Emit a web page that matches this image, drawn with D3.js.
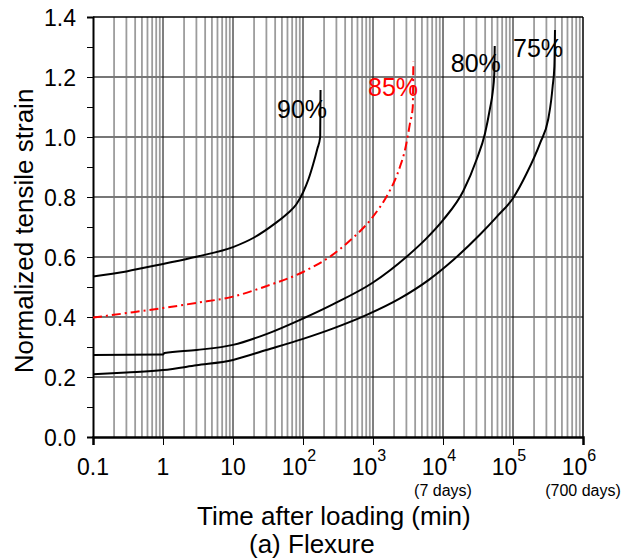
<!DOCTYPE html>
<html>
<head>
<meta charset="utf-8">
<script src="https://d3js.org/d3.v7.min.js"></script>
<style>
  body { margin: 0; background: #fff; }
  text { font-family: "Liberation Sans", Arial, sans-serif; fill: #000; }
</style>
</head>
<body>
<div class="chart"></div>
<script>
// values (time in min, normalized strain)
const time90 = [0.1, 0.3, 1, 3, 10, 20, 40, 60, 80, 100, 120, 140, 160, 176, 178];
const strain90 = [0.535, 0.552, 0.577, 0.601, 0.633, 0.665, 0.712, 0.745, 0.775, 0.815, 0.86, 0.91, 0.96, 1.0, 1.157];

const time85 = [0.1, 0.3, 1, 3, 10, 30, 100, 126, 243, 469, 957, 1655, 2063, 2430, 2865, 3378, 3700, 3770];
const strain85 = [0.398, 0.413, 0.43, 0.447, 0.468, 0.503, 0.55, 0.562, 0.601, 0.655, 0.729, 0.812, 0.857, 0.901, 0.957, 1.046, 1.1, 1.251];

const time80 = [0.1, 1, 1.05, 3, 10, 30, 100, 271, 1000, 3020, 5850, 10000, 19500, 30200, 39800, 46900, 51300, 54000, 54800];
const strain80 = [0.273, 0.275, 0.28, 0.29, 0.307, 0.343, 0.395, 0.443, 0.515, 0.601, 0.663, 0.723, 0.82, 0.925, 1.012, 1.095, 1.15, 1.21, 1.303];

const time75 = [0.1, 0.3, 1, 3, 10, 30, 100, 271, 813, 2430, 6200, 14000, 33800, 58500, 100000, 157000, 243000, 319000, 350000, 369000, 390000, 398000];
const strain75 = [0.209, 0.215, 0.223, 0.239, 0.257, 0.29, 0.327, 0.362, 0.407, 0.462, 0.523, 0.59, 0.675, 0.734, 0.796, 0.879, 0.979, 1.06, 1.12, 1.17, 1.235, 1.357];

const seriesNames = ["90%", "85%", "80%", "75%"];
const labelTime = [42.5, 849, 12900, 100000];
const labelStrain = [1.063, 1.137, 1.217, 1.267];

const xTicks = [0.1, 1, 10, 100, 1e3, 1e4, 1e5, 1e6];
const xTickBase = ["0.1", "1", "10", "10", "10", "10", "10", "10"];
const xTickExp = ["", "", "", "2", "3", "4", "5", "6"];
const noteTicks = [1e4, 1e6];
const noteText = ["(7 days)", "(700 days)"];

const yTicks = [0, 0.2, 0.4, 0.6, 0.8, 1.0, 1.2, 1.4];
const yMinor = [0.1, 0.3, 0.5, 0.7, 0.9, 1.1, 1.3];

const w = 622;
const h = 560;
const padLeft = 93, padRight = 583, padTop = 17, padBottom = 437;

const svg = d3.select(".chart")
              .append("svg")
              .attr("width", w)
              .attr("height", h);

const xScale = d3.scaleLog()
                 .domain([0.1, 1e6])
                 .range([padLeft, padRight]);
const yScale = d3.scaleLinear()
                 .domain([0, 1.4])
                 .range([padBottom, padTop]);

// minor vertical grid 2..9 per decade
const minorX = [];
for (let k = -1; k < 6; k++) {
  for (let m = 2; m <= 9; m++) minorX.push(m * Math.pow(10, k));
}
svg.append("g")
   .selectAll("line")
   .data(minorX)
   .enter()
   .append("line")
   .attr("x1", d => xScale(d))
   .attr("x2", d => xScale(d))
   .attr("y1", padTop)
   .attr("y2", padBottom)
   .attr("stroke", "#9c9c9c")
   .attr("stroke-width", 1.8);

// horizontal grid
svg.append("g")
   .selectAll("line")
   .data(yTicks.slice(1, -1))
   .enter()
   .append("line")
   .attr("x1", padLeft)
   .attr("x2", padRight)
   .attr("y1", d => yScale(d))
   .attr("y2", d => yScale(d))
   .attr("stroke", "#777")
   .attr("stroke-width", 1.8);

// decade lines
svg.append("g")
   .selectAll("line")
   .data(xTicks.slice(1, -1))
   .enter()
   .append("line")
   .attr("x1", d => xScale(d))
   .attr("x2", d => xScale(d))
   .attr("y1", padTop)
   .attr("y2", padBottom)
   .attr("stroke", "#000")
   .attr("stroke-width", 1);

// frame top / right
svg.append("line")
   .attr("x1", padLeft).attr("x2", padRight)
   .attr("y1", padTop).attr("y2", padTop)
   .attr("stroke", "#000").attr("stroke-width", 1.5);
svg.append("line")
   .attr("x1", padRight).attr("x2", padRight)
   .attr("y1", padTop).attr("y2", padBottom)
   .attr("stroke", "#000").attr("stroke-width", 1.5);

// axes
const xAxis = d3.axisBottom(xScale)
                .tickValues(xTicks)
                .tickSize(8)
                .tickFormat("");
const gx = svg.append("g")
   .attr("transform", "translate(0," + padBottom + ")")
   .call(xAxis)
   .attr("id", "x-axis");
gx.select(".domain").attr("stroke-width", 2.5);
gx.selectAll(".tick line").attr("stroke-width", 1);

const yAxis = d3.axisLeft(yScale)
                .tickValues(yTicks.concat(yMinor))
                .tickSize(6)
                .tickFormat(d => yTicks.includes(d) ? d.toFixed(1) : "");
const gy = svg.append("g")
   .attr("transform", "translate(" + padLeft + ",0)")
   .call(yAxis)
   .attr("id", "y-axis");
gy.select(".domain").attr("stroke-width", 2);
gy.selectAll(".tick line").attr("stroke-width", 1);
gy.selectAll(".tick text")
  .attr("x", -17)
  .attr("dy", "0.36em")
  .style("font-size", "23px")
  .style("font-family", "Liberation Sans, Arial, sans-serif");

// x tick labels with superscripts
const xl = svg.append("g")
   .selectAll("text")
   .data(xTicks)
   .enter()
   .append("text")
   .attr("x", (d, i) => xScale(d) + (xTickExp[i] ? -4 : 0))
   .attr("y", 475)
   .attr("text-anchor", "middle")
   .style("font-size", "23px");
xl.append("tspan").text((d, i) => xTickBase[i]);
xl.append("tspan")
  .attr("dy", -14)
  .style("font-size", "16px")
  .text((d, i) => xTickExp[i]);

svg.append("g")
   .selectAll("text")
   .data(noteTicks)
   .enter()
   .append("text")
   .attr("x", d => xScale(d))
   .attr("y", 496)
   .attr("text-anchor", "middle")
   .style("font-size", "16px")
   .text((d, i) => noteText[i]);

// curves
const line = d3.line()
               .x(d => xScale(d[0]))
               .y(d => yScale(d[1]))
               .curve(d3.curveMonotoneX);

const allTimes = [time90, time85, time80, time75];
const allStrains = [strain90, strain85, strain80, strain75];
const colors = ["#000", "#ff0000", "#000", "#000"];

allTimes.forEach((ts, i) => {
  const pts = ts.map((t, j) => [t, allStrains[i][j]]);
  svg.append("path")
     .datum(pts)
     .attr("d", line)
     .attr("fill", "none")
     .attr("stroke", colors[i])
     .attr("stroke-width", 2)
     .attr("stroke-dasharray", i === 1 ? "9,4,2,4" : null);
});

// curve labels
svg.append("g")
   .selectAll("text")
   .data(seriesNames)
   .enter()
   .append("text")
   .attr("x", (d, i) => xScale(labelTime[i]))
   .attr("y", (d, i) => yScale(labelStrain[i]))
   .style("font-size", "25px")
   .style("fill", (d, i) => colors[i])
   .text(d => d);

// titles
svg.append("text")
   .attr("transform", "translate(33," + 231 + ") rotate(-90)")
   .attr("text-anchor", "middle")
   .style("font-size", "26px")
   .text("Normalized tensile strain");

svg.append("text")
   .attr("x", 197)
   .attr("y", 525)
   .style("font-size", "26px")
   .text("Time after loading (min)");

svg.append("text")
   .attr("x", 249)
   .attr("y", 553)
   .style("font-size", "26px")
   .text("(a) Flexure");
</script>
</body>
</html>
